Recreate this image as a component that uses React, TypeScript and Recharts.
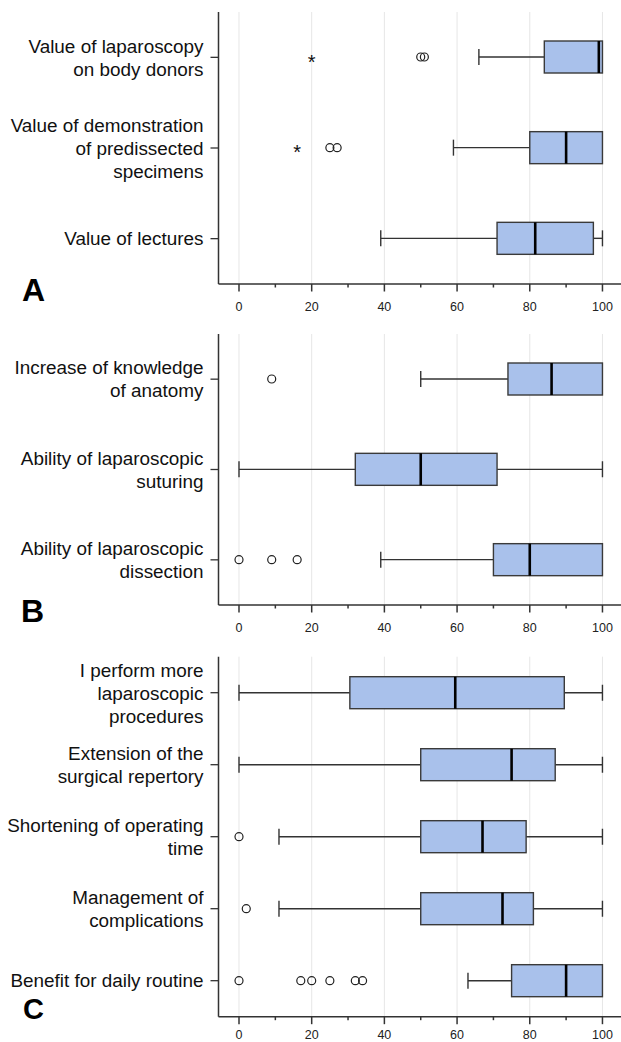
import { ComposedChart, Bar, XAxis, YAxis, CartesianGrid } from "recharts";

// panel A
const aLabels = [
  "Value of laparoscopy\non body donors",
  "Value of demonstration\nof predissected\nspecimens",
  "Value of lectures",
];
const aMin = [66, 59, 39];
const aQ1 = [84, 80, 71];
const aMed = [99, 90, 81.5];
const aQ3 = [100, 100, 97.5];
const aMax = [100, 100, 100];
const aOutliers = [[50, 51], [25, 27], []];
const aExtremes = [[20], [16], []];

// panel B
const bLabels = [
  "Increase of knowledge\nof anatomy",
  "Ability of laparoscopic\nsuturing",
  "Ability of laparoscopic\ndissection",
];
const bMin = [50, 0, 39];
const bQ1 = [74, 32, 70];
const bMed = [86, 50, 80];
const bQ3 = [100, 71, 100];
const bMax = [100, 100, 100];
const bOutliers = [[9], [], [0, 9, 16]];
const bExtremes = [[], [], []];

// panel C
const cLabels = [
  "I perform more\nlaparoscopic\nprocedures",
  "Extension of the\nsurgical repertory",
  "Shortening of operating\ntime",
  "Management of\ncomplications",
  "Benefit for daily routine",
];
const cMin = [0, 0, 11, 11, 63];
const cQ1 = [30.5, 50, 50, 50, 75];
const cMed = [59.5, 75, 67, 72.5, 90];
const cQ3 = [89.5, 87, 79, 81, 100];
const cMax = [100, 100, 100, 100, 100];
const cOutliers = [[], [], [0], [2], [0, 17, 20, 25, 32, 34]];
const cExtremes = [[], [], [], [], []];

const xTicks = [0, 10, 20, 30, 40, 50, 60, 70, 80, 90, 100];
const gridValues = [0, 20, 40, 60, 80, 100];

const FONT = "'Liberation Sans', Arial, Helvetica, sans-serif";
const FRAME = "#333";

const buildRows = (
  labels: string[],
  mins: number[],
  q1s: number[],
  meds: number[],
  q3s: number[],
  maxs: number[],
  outliers: number[][],
  extremes: number[][]
) =>
  labels.map((name, i) => ({
    name,
    // bar spans everything drawn in the row, box parts are placed inside it
    range: [Math.min(mins[i], ...outliers[i], ...extremes[i]), maxs[i]],
    min: mins[i],
    q1: q1s[i],
    med: meds[i],
    q3: q3s[i],
    max: maxs[i],
    outliers: outliers[i],
    extremes: extremes[i],
  }));

const BoxShape = (props: any) => {
  const { x, y, width, height, payload } = props;
  const [lo, hi] = payload.range;
  const px = (v: number) => x + ((v - lo) / (hi - lo)) * width;
  const cy = y + height / 2;
  const cap = 8;
  const wStyle = { stroke: "#333", strokeWidth: 1.4 };
  return (
    <g>
      {payload.min < payload.q1 && (
        <g>
          <line x1={px(payload.min)} x2={px(payload.q1)} y1={cy} y2={cy} {...wStyle} />
          <line x1={px(payload.min)} x2={px(payload.min)} y1={cy - cap} y2={cy + cap} {...wStyle} />
        </g>
      )}
      {payload.max > payload.q3 && (
        <g>
          <line x1={px(payload.q3)} x2={px(payload.max)} y1={cy} y2={cy} {...wStyle} />
          <line x1={px(payload.max)} x2={px(payload.max)} y1={cy - cap} y2={cy + cap} {...wStyle} />
        </g>
      )}
      <rect
        x={px(payload.q1)}
        y={y}
        width={px(payload.q3) - px(payload.q1)}
        height={height}
        fill="#a9c1eb"
        stroke="#3a3a3a"
        strokeWidth={1.4}
      />
      <line
        x1={px(payload.med)}
        x2={px(payload.med)}
        y1={y}
        y2={y + height}
        stroke="#000"
        strokeWidth={2.6}
      />
      {payload.outliers.map((v: number, i: number) => (
        <circle key={"o" + i} cx={px(v)} cy={cy} r={4} fill="none" stroke="#222" strokeWidth={1.2} />
      ))}
      {payload.extremes.map((v: number, i: number) => (
        <text
          key={"e" + i}
          x={px(v)}
          y={cy + 11.5}
          textAnchor="middle"
          fontSize={20}
          fontFamily={FONT}
          fill="#111"
        >
          *
        </text>
      ))}
    </g>
  );
};

const LabelTick = (props: any) => {
  const { x, y, payload } = props;
  const lines = String(payload.value).split("\n");
  const lh = 23;
  const start = y - ((lines.length - 1) * lh) / 2;
  return (
    <text x={x} y={start} textAnchor="end" fontSize={18.9} fill="#111" fontFamily={FONT}>
      {lines.map((l, i) => (
        <tspan key={i} x={x} y={start + i * lh} dy="0.36em">
          {l}
        </tspan>
      ))}
    </text>
  );
};

const ValueTick = (props: any) => {
  const { x, y, payload, labelDy = 26.5 } = props;
  const major = payload.value % 20 === 0;
  return (
    <g>
      <line x1={x} x2={x} y1={y} y2={y + (major ? 7.5 : 3.5)} stroke={FRAME} strokeWidth={1.5} />
      {major && (
        <text x={x} y={y + labelDy} textAnchor="middle" fontSize={12.5} fill="#222" fontFamily={FONT}>
          {payload.value}
        </text>
      )}
    </g>
  );
};

const Panel = ({ rows, top, height, marginTop, labelDy }: any) => (
  <div style={{ position: "absolute", left: 0, top, width: 621, height }}>
    <ComposedChart
      width={621}
      height={height}
      data={rows}
      layout="vertical"
      margin={{ top: marginTop, right: 0, bottom: 0, left: 0 }}
    >
      <CartesianGrid
        xAxisId="b"
        horizontal={false}
        verticalValues={gridValues}
        stroke="#e6e6e6"
        strokeWidth={1}
      />
      <XAxis
        xAxisId="b"
        type="number"
        domain={[-5.64, 105.1]}
        allowDataOverflow
        ticks={xTicks}
        interval={0}
        height={36}
        tickSize={0}
        tickMargin={0}
        tickLine={false}
        axisLine={{ stroke: FRAME, strokeWidth: 1.5 }}
        tick={<ValueTick labelDy={labelDy} />}
      />
      <XAxis
        xAxisId="t"
        orientation="top"
        type="number"
        domain={[-5.64, 105.1]}
        allowDataOverflow
        height={0}
        tick={false}
        tickLine={false}
        axisLine={{ stroke: FRAME, strokeWidth: 1.5 }}
      />
      <YAxis
        type="category"
        dataKey="name"
        width={218.5}
        tickSize={8}
        tickMargin={7}
        interval={0}
        axisLine={{ stroke: FRAME, strokeWidth: 1.5 }}
        tickLine={{ stroke: FRAME, strokeWidth: 1.3 }}
        tick={<LabelTick />}
      />
      <Bar
        xAxisId="b"
        dataKey="range"
        barSize={32}
        shape={<BoxShape />}
        isAnimationActive={false}
      />
    </ComposedChart>
  </div>
);

const rowsA = buildRows(aLabels, aMin, aQ1, aMed, aQ3, aMax, aOutliers, aExtremes);
const rowsB = buildRows(bLabels, bMin, bQ1, bMed, bQ3, bMax, bOutliers, bExtremes);
const rowsC = buildRows(cLabels, cMin, cQ1, cMed, cQ3, cMax, cOutliers, cExtremes);

const letterStyle = { fontFamily: FONT, fontWeight: 700, fontSize: 32, fill: "#000" };

export default function App() {
  return (
    <div
      style={{
        position: "absolute",
        left: 0,
        top: 0,
        width: 621,
        height: 1042,
        overflow: "hidden",
        background: "#fff",
      }}
    >
      <Panel rows={rowsA} top={0} height={320} marginTop={12} labelDy={26.5} />
      <Panel rows={rowsB} top={322} height={319} marginTop={12} labelDy={26.5} />
      <Panel rows={rowsC} top={644} height={408.7} marginTop={12.7} labelDy={22.5} />
      <svg
        width={621}
        height={1042}
        style={{ position: "absolute", left: 0, top: 0, pointerEvents: "none" }}
      >
        <text x={22} y={301} {...letterStyle}>A</text>
        <text x={21} y={622} {...letterStyle}>B</text>
        <text x={23} y={1019} {...letterStyle} fontSize={29}>C</text>
      </svg>
    </div>
  );
}
